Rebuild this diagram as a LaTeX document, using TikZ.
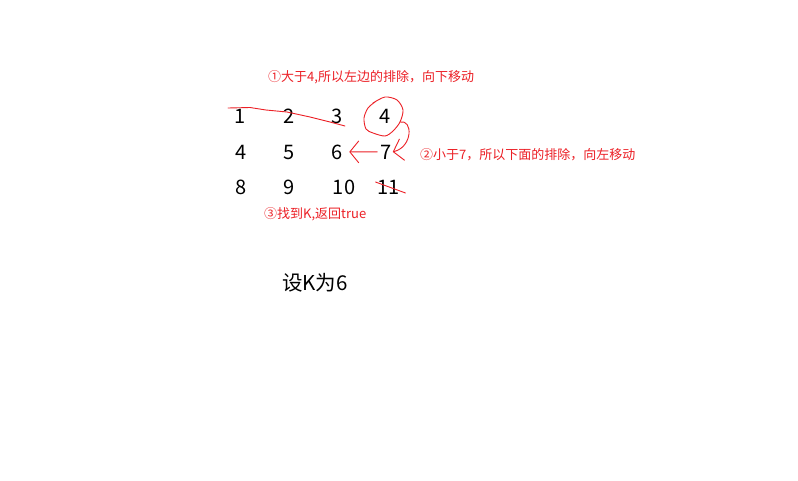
\documentclass[tikz,border=0pt]{standalone}
\usepackage{fontspec}
\setmainfont{Noto Sans CJK SC}
\usepackage{tikz}
\usetikzlibrary{arrows.meta,positioning,calc}
\definecolor{clrMark}{RGB}{236,32,38}
\tikzset{
  cell/.style={font=\fontsize{20}{20}\selectfont,inner sep=0pt,anchor=base},
  note/.style={font=\fontsize{13}{14}\selectfont,text=clrMark,
    anchor=base west,inner sep=0pt},
  caption/.style={font=\fontsize{20.5}{21}\selectfont,anchor=base west,inner sep=0pt},
  stroke/.style={clrMark,line width=0.9pt,line cap=round,line join=round},
  barb/.style={stroke,-{Straight Barb[length=9pt,width=22pt]}}
}

\begin{document}
\begin{tikzpicture}[x=1pt,y=-1pt]
  \useasboundingbox[fill=white] (0,0) rectangle (798,480);

  % the matrix
  \node[cell] (a1) at (240,123) {1};
  \node[cell] (a2) at (289,123) {2};
  \node[cell] (a3) at (337.5,123) {3};
  \node[cell] (a4) at (385,123) {4};
  \node[cell] (b1) at (241,159) {4};
  \node[cell] (b2) at (289,159) {5};
  \node[cell] (b3) at (337.5,159) {6};
  \node[cell] (b4) at (386,159) {7};
  \node[cell] (c1) at (241,194) {8};
  \node[cell] (c2) at (289,194) {9};
  \node[cell] (c3) at (344,194) {10};
  \node[cell] (c4) at (388.5,194) {11};

  % notes
  \node[note] (step1) at (268,81) {①大于4,所以左边的排除，向下移动};
  \node[note] (step2) at (420,159.5) {②小于7，所以下面的排除，向左移动};
  \node[note] (step3) at (264,218) {③找到K,返回true};
  \node[caption] (given) at (282,290) {设K为6};

  % first row struck out
  \draw[stroke] (228,108) -- (250,107.5) -- (266,110) -- (287,112)
    -- (310,117) -- (330,122) -- (345,126);

  % 11 struck out
  \draw[stroke] ([shift={(-13,-12)}]c4.base) -- ([shift={(17,-1)}]c4.base);

  % ring round the corner 4
  \draw[stroke] plot[smooth] coordinates
    {(373,103) (385,97) (397,100) (403,110) (400,122) (393,131) (385,136)
     (373,133) (366,129) (364,118) (368,108) (375,102)};
  \coordinate (ringexit) at (400,122);

  \draw[barb] (ringexit) .. controls (413,119) and (413,147) .. ([xshift=1pt]b4.east);
  \draw[barb] ([xshift=-3pt]b4.west) -- ([xshift=6pt]b3.east);
\end{tikzpicture}
\end{document}
